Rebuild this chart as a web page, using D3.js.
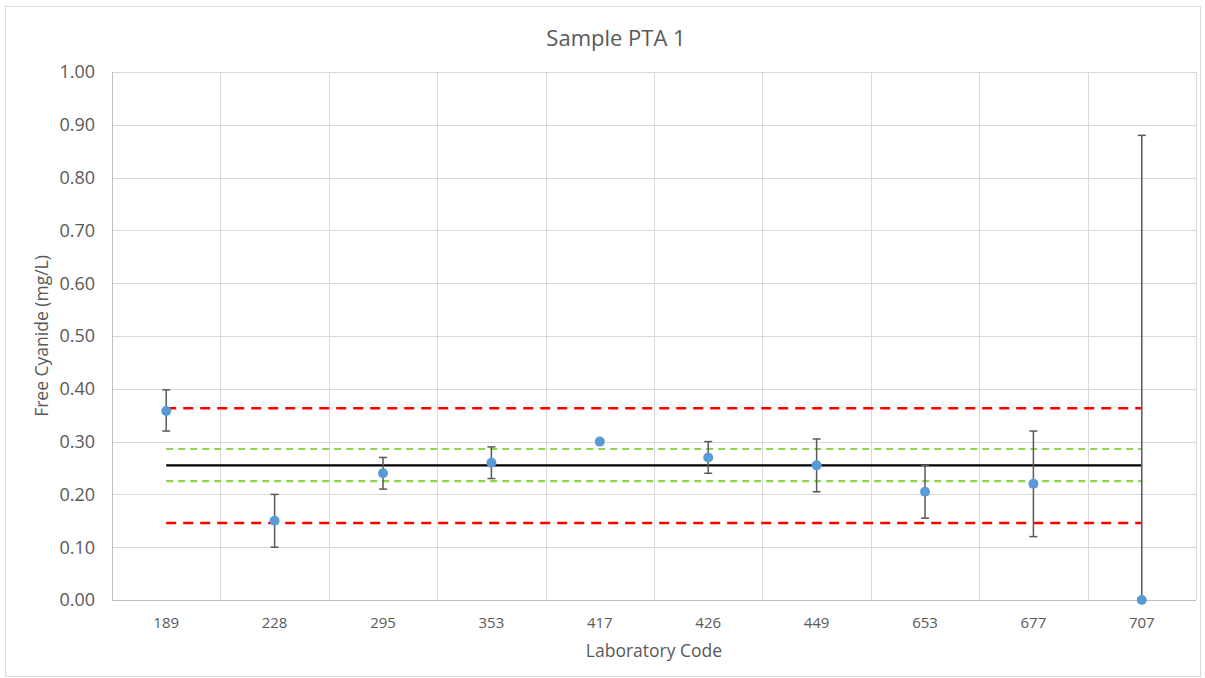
<!DOCTYPE html>
<html>
<head>
<meta charset="utf-8">
<script src="https://cdn.jsdelivr.net/npm/d3@7"></script>
<style>
  body { margin: 0; background: #fff; }
  text { font-family: "Open Sans", "Liberation Sans", sans-serif; fill: #595959; }
</style>
</head>
<body>
<script>
// Data
let labs = ["189", "228", "295", "353", "417", "426", "449", "653", "677", "707"];
let results = [0.358, 0.150, 0.240, 0.260, 0.300, 0.270, 0.255, 0.205, 0.220, 0.000];
let errLow = [0.320, 0.100, 0.210, 0.230, null, 0.240, 0.205, 0.155, 0.120, 0.000];
let errHigh = [0.398, 0.200, 0.270, 0.290, null, 0.300, 0.305, 0.255, 0.320, 0.880];
let yTicks = [0, 0.1, 0.2, 0.3, 0.4, 0.5, 0.6, 0.7, 0.8, 0.9, 1.0];

// assigned value and limits
let assigned = 0.255;
let innerLimits = [0.286, 0.225];
let outerLimits = [0.363, 0.146];

function drawChart() {
  let width = 1205;
  let height = 678;
  let margin = {left: 112, right: 9, top: 72, bottom: 78};

  let svg = d3.select("body")
    .append("svg")
    .attr("width", width)
    .attr("height", height);

  // chart frame
  svg.append("rect")
    .attr("x", 5.5).attr("y", 6.5)
    .attr("width", width - 10).attr("height", height - 8)
    .attr("fill", "none")
    .attr("stroke", "#d9d9d9");

  let x = d3.scaleBand()
    .domain(labs)
    .range([margin.left, width - margin.right]);

  let y = d3.scaleLinear()
    .domain([0, 1])
    .range([height - margin.bottom, margin.top]);

  // horizontal grid
  svg.append("g")
    .selectAll("line")
    .data(yTicks)
    .enter()
    .append("line")
    .attr("x1", margin.left).attr("x2", width - margin.right)
    .attr("y1", d => Math.round(y(d)) + 0.5).attr("y2", d => Math.round(y(d)) + 0.5)
    .style("stroke", "#d9d9d9");

  // vertical grid between categories
  let edges = labs.map(d => x(d)).concat([width - margin.right]);
  svg.append("g")
    .selectAll("line")
    .data(edges)
    .enter()
    .append("line")
    .attr("x1", d => Math.round(d) + 0.5).attr("x2", d => Math.round(d) + 0.5)
    .attr("y1", margin.top).attr("y2", height - margin.bottom)
    .style("stroke", "#d9d9d9");

  // axes lines
  svg.append("line")
    .attr("x1", margin.left + 0.5).attr("x2", margin.left + 0.5)
    .attr("y1", margin.top).attr("y2", height - margin.bottom)
    .style("stroke", "#bfbfbf");
  svg.append("line")
    .attr("x1", margin.left).attr("x2", width - margin.right)
    .attr("y1", height - margin.bottom + 0.5).attr("y2", height - margin.bottom + 0.5)
    .style("stroke", "#bfbfbf");

  // y tick labels
  svg.append("g")
    .selectAll("text")
    .data(yTicks)
    .enter()
    .append("text")
    .attr("x", margin.left - 17)
    .attr("y", d => y(d))
    .attr("dy", "0.35em")
    .attr("text-anchor", "end")
    .style("font-size", "18px")
    .text(d => d.toFixed(2));

  // x tick labels
  svg.append("g")
    .selectAll("text")
    .data(labs)
    .enter()
    .append("text")
    .attr("x", d => x(d) + x.bandwidth() / 2)
    .attr("y", height - margin.bottom + 28)
    .attr("text-anchor", "middle")
    .style("font-size", "15px")
    .text(d => d);

  // reference lines span first to last category centre
  let xStart = x(labs[0]) + x.bandwidth() / 2;
  let xEnd = x(labs[labs.length - 1]) + x.bandwidth() / 2;

  svg.append("g")
    .selectAll("line")
    .data(outerLimits)
    .enter()
    .append("line")
    .attr("x1", xStart).attr("x2", xEnd)
    .attr("y1", d => y(d)).attr("y2", d => y(d))
    .style("stroke", "#ff0000")
    .style("stroke-width", 2.5)
    .style("stroke-dasharray", "10,7");

  svg.append("g")
    .selectAll("line")
    .data(innerLimits)
    .enter()
    .append("line")
    .attr("x1", xStart).attr("x2", xEnd)
    .attr("y1", d => y(d)).attr("y2", d => y(d))
    .style("stroke", "#92d050")
    .style("stroke-width", 2.2)
    .style("stroke-dasharray", "7,5");

  svg.append("line")
    .attr("x1", xStart).attr("x2", xEnd)
    .attr("y1", y(assigned)).attr("y2", y(assigned))
    .style("stroke", "#000")
    .style("stroke-width", 2.2);

  // error bars
  let bars = svg.append("g").style("stroke", "#595959").style("stroke-width", 1.5);
  labs.forEach((lab, i) => {
    if (errLow[i] == null) return;
    let cx = x(lab) + x.bandwidth() / 2;
    bars.append("line")
      .attr("x1", cx).attr("x2", cx)
      .attr("y1", y(errLow[i])).attr("y2", y(errHigh[i]));
    for (let v of [errLow[i], errHigh[i]]) {
      if (v == 0) continue;
      bars.append("line")
        .attr("x1", cx - 4).attr("x2", cx + 4)
        .attr("y1", y(v)).attr("y2", y(v));
    }
  });

  // points
  svg.append("g")
    .selectAll("circle")
    .data(results)
    .enter()
    .append("circle")
    .attr("cx", (d, i) => x(labs[i]) + x.bandwidth() / 2)
    .attr("cy", d => y(d))
    .attr("r", 5)
    .style("fill", "#5b9bd5");

  // titles
  svg.append("text")
    .attr("x", 616).attr("y", 46)
    .attr("text-anchor", "middle")
    .style("font-size", "22px")
    .text("Sample PTA 1");

  svg.append("text")
    .attr("x", 654)
    .attr("y", 657)
    .attr("text-anchor", "middle")
    .style("font-size", "17.5px")
    .text("Laboratory Code");

  svg.append("text")
    .attr("transform", `translate(48,336) rotate(-90)`)
    .attr("text-anchor", "middle")
    .style("font-size", "17.5px")
    .text("Free Cyanide (mg/L)");
}

drawChart();
</script>
</body>
</html>
